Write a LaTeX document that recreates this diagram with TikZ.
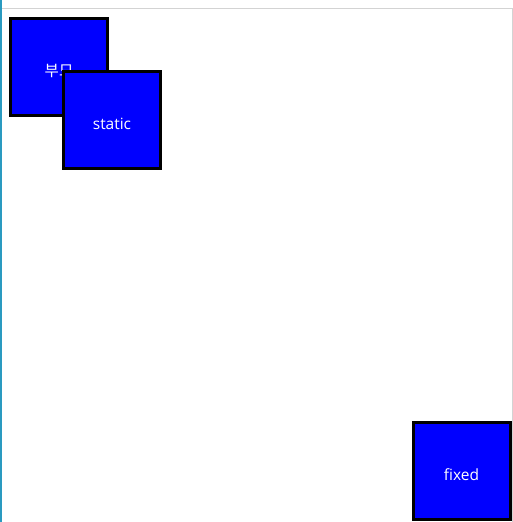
\documentclass[tikz,border=0pt]{standalone}
\usepackage{fontspec}
\setmainfont{Open Sans}
\newfontfamily\krfont{Noto Sans CJK KR}
\definecolor{framegray}{RGB}{211,211,211}
\definecolor{edgeteal}{RGB}{42,154,192}
\newcommand{\lowtext}[2]{\raisebox{-#1}[0pt][0pt]{#2}}
\begin{document}
\begin{tikzpicture}[x=1pt,y=-1pt,
  bluebox/.style={draw=black,fill=blue,line width=3pt,minimum width=97pt,minimum height=97pt,inner sep=0pt,text=white,font=\fontsize{15.5}{18}\selectfont},
  frameline/.style={draw=framegray,line width=1pt}]
\useasboundingbox (0,0) rectangle (513,522);
\fill[white] (0,0) rectangle (513,522);
\draw[frameline] (2,8.5) -- (512.5,8.5) -- (512.5,522);
\draw[line width=1.5pt,edgeteal] (0.75,0) -- (0.75,522);
\node[bluebox] (parent) at (59,67) {\lowtext{9pt}{\krfont 부모}};
\node[bluebox] (static) at (112,119.5) {\lowtext{9.8pt}{static}};
\node[bluebox] (fixed) at (461.5,470.5) {\lowtext{9.5pt}{fixed}};
\end{tikzpicture}
\end{document}
